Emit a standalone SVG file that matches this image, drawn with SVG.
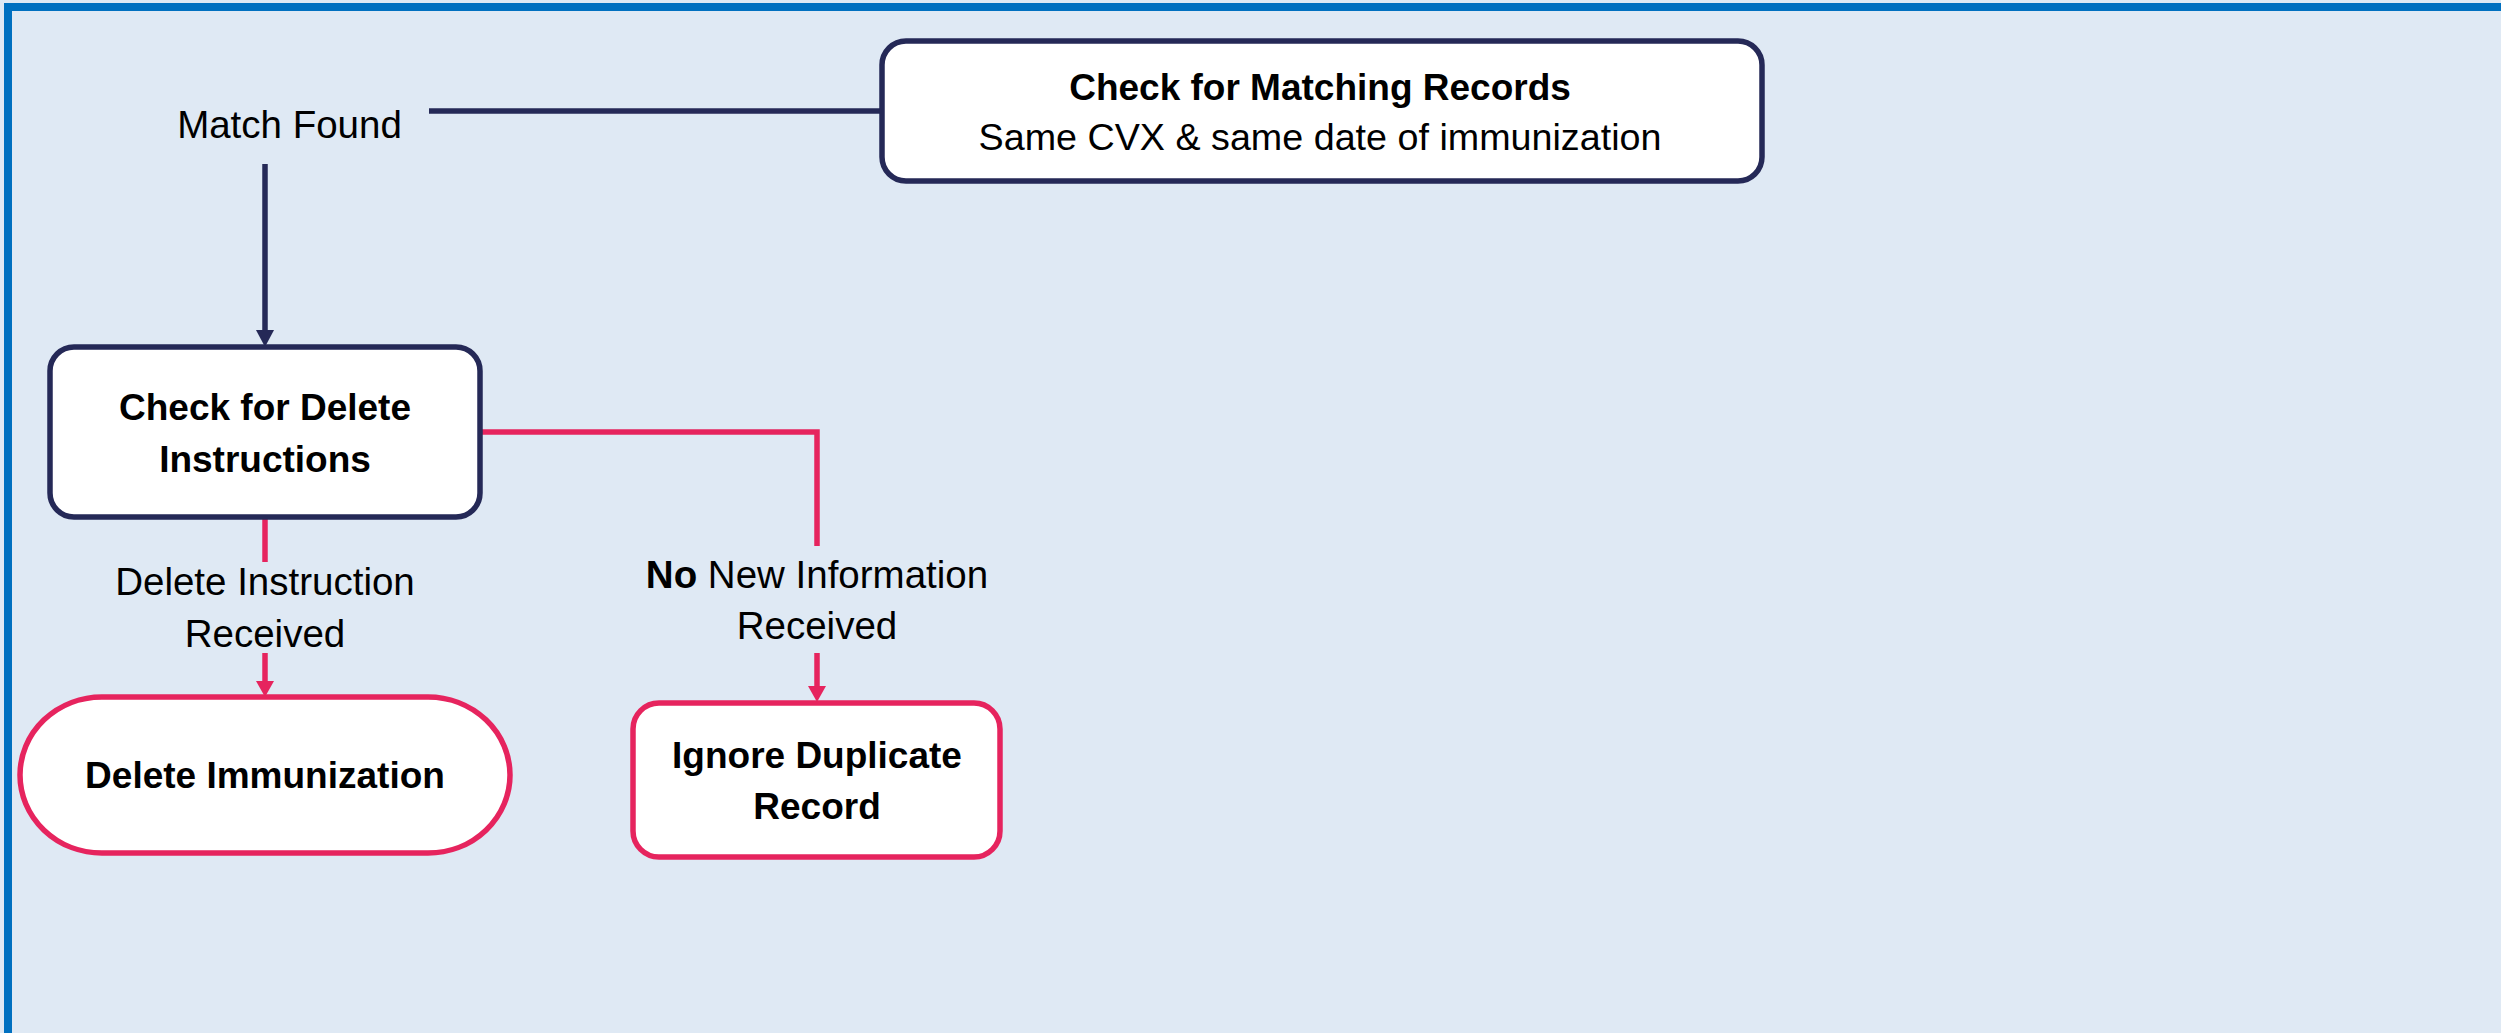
<svg xmlns="http://www.w3.org/2000/svg" width="2501" height="1033" viewBox="0 0 2501 1033">
  <style>
    .t { font-family: "Liberation Sans", Arial, sans-serif; fill: #000; text-anchor: middle; }
    .r { font-size: 38.5px; }
    .b { font-size: 37px; font-weight: bold; }
    .navy { fill: #fff; stroke: #252957; stroke-width: 5.5; }
    .pink { fill: #fff; stroke: #e6245e; stroke-width: 5.5; }
    .cn { fill: none; stroke: #252957; stroke-width: 5.5; }
    .cp { fill: none; stroke: #e6245e; stroke-width: 5.5; }
  </style>
  <defs>
    <marker id="an" markerUnits="userSpaceOnUse" markerWidth="18" markerHeight="18" refX="0" refY="9" orient="auto">
      <path d="M0,0 L17,9 L0,18 z" fill="#252957"/>
    </marker>
    <marker id="ap" markerUnits="userSpaceOnUse" markerWidth="18" markerHeight="18" refX="0" refY="9" orient="auto">
      <path d="M0,0 L16,9 L0,18 z" fill="#e6245e"/>
    </marker>
  </defs>
  <rect x="0" y="0" width="2501" height="1033" fill="#dfe9f4"/>
  <path d="M8,1040 V7 H2510" fill="none" stroke="#0070c0" stroke-width="8"/>

  <g id="connectors">
    <path class="cn" d="M429,111 H882"/>
    <path class="cn" d="M265,164 V330" marker-end="url(#an)"/>
    <path class="cp" d="M480,432 H817 V546"/>
    <path class="cp" d="M265,515 V562"/>
    <path class="cp" d="M265,653 V681" marker-end="url(#ap)"/>
    <path class="cp" d="M817,653 V686" marker-end="url(#ap)"/>
    <text class="t r" x="289.5" y="138">Match Found</text>
    <text class="t r" x="265" y="595">Delete Instruction</text>
    <text class="t r" x="265" y="647">Received</text>
    <text class="t r" x="817" y="588"><tspan font-weight="bold">No</tspan> New Information</text>
    <text class="t r" x="817" y="639">Received</text>
  </g>

  <g id="check-matching">
    <rect class="navy" x="882" y="41" width="880" height="140" rx="24"/>
    <text class="t b" x="1320" y="100">Check for Matching Records</text>
    <text class="t r" x="1320" y="150" style="font-size:37.7px">Same CVX &amp; same date of immunization</text>
  </g>

  <g id="check-delete">
    <rect class="navy" x="50" y="347" width="430" height="170" rx="24"/>
    <text class="t b" x="265" y="420">Check for Delete</text>
    <text class="t b" x="265" y="472">Instructions</text>
  </g>

  <g id="delete-immunization">
    <rect class="pink" x="20" y="697" width="490" height="156" rx="82" ry="78"/>
    <text class="t b" x="265" y="788">Delete Immunization</text>
  </g>

  <g id="ignore-duplicate">
    <rect class="pink" x="633" y="703" width="367" height="154" rx="26"/>
    <text class="t b" x="817" y="768">Ignore Duplicate</text>
    <text class="t b" x="817" y="819">Record</text>
  </g>
</svg>
